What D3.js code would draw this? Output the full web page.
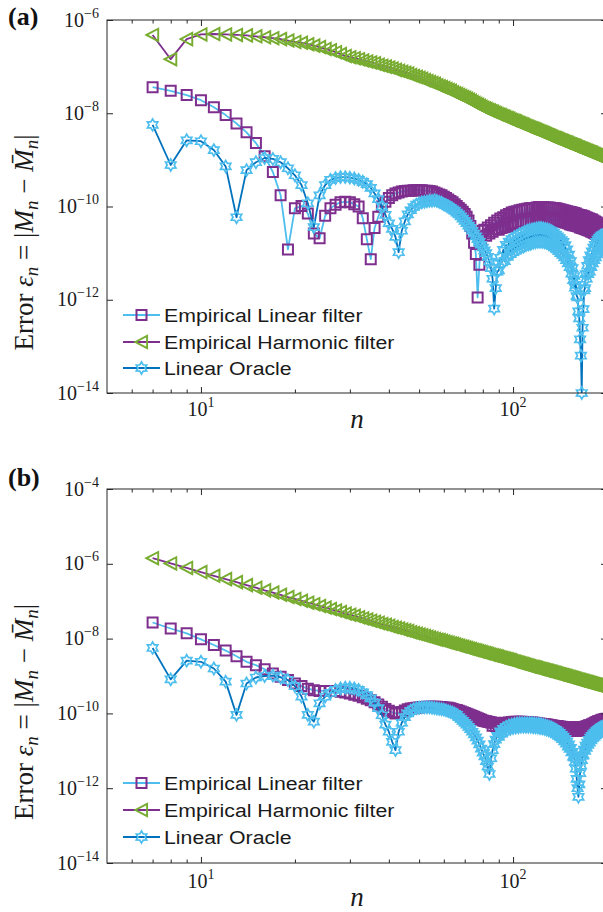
<!DOCTYPE html>
<html>
<head>
<meta charset="utf-8">
<script src="https://cdn.jsdelivr.net/npm/d3@7"></script>
<style>
  body { margin: 0; background: #fff; }
  svg { display: block; }
</style>
</head>
<body>
<svg id="chart" width="603" height="912"></svg>
<script>
'use strict';

// n runs over the integers 7..200, one marker per n
const nValues = d3.range(7, 201);

// log10 of the error, n = 7, 8, 9, ...
// panel (a)
const linearA = [
  -7.44,-7.52,-7.61,-7.72,-7.87,-8.04,-8.22,-8.41,-8.64,-8.92,
  -9.26,-9.76,-10.92,-10.04,-9.99,-10.15,-10.58,-10.68,-10.20,-10.04,
  -9.96,-9.91,-9.90,-9.91,-9.95,-10.00,-10.25,-10.70,-11.13,-10.46,
  -10.22,-10.00,-9.90,-9.82,-9.76,-9.72,-9.70,-9.68,-9.67,-9.66,
  -9.66,-9.65,-9.65,-9.65,-9.65,-9.66,-9.66,-9.67,-9.68,-9.70,
  -9.72,-9.74,-9.76,-9.79,-9.82,-9.85,-9.88,-9.91,-9.95,-9.99,
  -10.03,-10.07,-10.11,-10.16,-10.22,-10.30,-10.42,-10.58,-10.78,-11.02,
  -11.95,-11.25,-10.72,-10.52,-10.50,-10.63,-10.45,-10.58,-10.40,-10.54,
  -10.35,-10.49,-10.30,-10.50,-10.26,-10.46,-10.23,-10.43,-10.19,-10.44,
  -10.16,-10.41,-10.13,-10.38,-10.11,-10.36,-10.10,-10.35,-10.08,-10.34,
  -10.07,-10.32,-10.06,-10.31,-10.05,-10.30,-10.04,-10.30,-10.03,-10.29,
  -10.03,-10.28,-10.02,-10.28,-10.01,-10.27,-10.01,-10.27,-10.01,-10.27,
  -10.02,-10.28,-10.02,-10.28,-10.02,-10.29,-10.03,-10.29,-10.03,-10.30,
  -10.04,-10.31,-10.05,-10.31,-10.06,-10.32,-10.07,-10.33,-10.08,-10.34,
  -10.09,-10.35,-10.10,-10.36,-10.11,-10.38,-10.12,-10.39,-10.13,-10.40,
  -10.14,-10.41,-10.15,-10.42,-10.17,-10.43,-10.18,-10.45,-10.19,-10.46,
  -10.20,-10.47,-10.21,-10.48,-10.23,-10.50,-10.24,-10.51,-10.26,-10.52,
  -10.27,-10.54,-10.28,-10.55,-10.30,-10.57,-10.32,-10.59,-10.34,-10.61,
  -10.36,-10.63,-10.38,-10.66,-10.41,-10.68,-10.43,-10.70,-10.46,-10.73,
  -10.48,-10.75,-10.50,-10.78
];
const harmonicA = [
  -6.32,-6.84,-6.41,-6.31,-6.30,-6.31,-6.32,-6.33,-6.35,-6.37,
  -6.39,-6.41,-6.44,-6.47,-6.49,-6.52,-6.55,-6.58,-6.62,-6.65,
  -6.69,-6.73,-6.77,-6.80,-6.82,-6.84,-6.87,-6.89,-6.91,-6.93,
  -6.96,-6.98,-7.00,-7.02,-7.04,-7.07,-7.09,-7.11,-7.13,-7.15,
  -7.18,-7.20,-7.22,-7.24,-7.26,-7.29,-7.31,-7.33,-7.35,-7.37,
  -7.40,-7.42,-7.44,-7.46,-7.48,-7.50,-7.52,-7.55,-7.57,-7.59,
  -7.61,-7.63,-7.65,-7.67,-7.69,-7.71,-7.73,-7.76,-7.78,-7.80,
  -7.82,-7.84,-7.86,-7.88,-7.90,-7.91,-7.93,-7.94,-7.96,-7.97,
  -7.99,-8.00,-8.02,-8.03,-8.04,-8.06,-8.07,-8.08,-8.10,-8.11,
  -8.12,-8.14,-8.15,-8.16,-8.17,-8.18,-8.20,-8.21,-8.22,-8.23,
  -8.24,-8.25,-8.27,-8.28,-8.29,-8.30,-8.31,-8.32,-8.33,-8.34,
  -8.35,-8.36,-8.37,-8.38,-8.39,-8.40,-8.41,-8.42,-8.43,-8.44,
  -8.45,-8.46,-8.47,-8.48,-8.49,-8.50,-8.51,-8.52,-8.53,-8.53,
  -8.54,-8.55,-8.56,-8.57,-8.58,-8.59,-8.59,-8.60,-8.61,-8.62,
  -8.63,-8.63,-8.64,-8.65,-8.66,-8.67,-8.67,-8.68,-8.69,-8.70,
  -8.70,-8.71,-8.72,-8.73,-8.74,-8.74,-8.75,-8.76,-8.76,-8.77,
  -8.78,-8.79,-8.79,-8.80,-8.81,-8.81,-8.82,-8.83,-8.83,-8.84,
  -8.85,-8.85,-8.86,-8.87,-8.88,-8.88,-8.89,-8.90,-8.90,-8.91,
  -8.92,-8.92,-8.93,-8.94,-8.94,-8.95,-8.96,-8.96,-8.97,-8.98,
  -8.98,-8.99,-8.99,-9.00
];
const oracleA = [
  -8.25,-9.11,-8.58,-8.60,-8.79,-9.14,-10.23,-9.22,-9.05,-8.96,
  -8.98,-9.05,-9.18,-9.33,-9.54,-9.93,-10.44,-9.76,-9.54,-9.43,
  -9.39,-9.37,-9.37,-9.38,-9.40,-9.43,-9.47,-9.52,-9.60,-9.72,
  -9.84,-10.00,-10.18,-10.36,-10.48,-10.65,-10.98,-10.52,-10.32,-10.17,
  -10.08,-10.01,-9.96,-9.93,-9.91,-9.90,-9.89,-9.88,-9.88,-9.87,
  -9.88,-9.90,-9.92,-9.95,-9.97,-10.00,-10.03,-10.06,-10.09,-10.13,
  -10.17,-10.21,-10.26,-10.31,-10.36,-10.41,-10.46,-10.52,-10.58,-10.64,
  -10.70,-10.76,-10.82,-10.88,-10.94,-11.00,-11.08,-11.18,-11.32,-11.55,
  -12.19,-11.75,-11.40,-11.37,-11.10,-11.20,-10.93,-11.17,-10.82,-11.08,
  -10.75,-11.02,-10.70,-10.98,-10.66,-10.94,-10.63,-10.91,-10.60,-10.88,
  -10.57,-10.86,-10.54,-10.83,-10.52,-10.81,-10.50,-10.80,-10.49,-10.78,
  -10.48,-10.77,-10.47,-10.76,-10.46,-10.76,-10.46,-10.76,-10.47,-10.77,
  -10.48,-10.78,-10.49,-10.80,-10.51,-10.82,-10.53,-10.85,-10.56,-10.88,
  -10.60,-10.92,-10.64,-10.96,-10.68,-11.00,-10.72,-11.04,-10.76,-11.09,
  -10.83,-11.15,-10.92,-11.22,-11.03,-11.30,-11.17,-11.44,-11.32,-11.58,
  -11.49,-11.74,-11.68,-11.92,-11.95,-12.25,-12.40,-12.85,-13.20,-14.00,
  -12.60,-12.20,-11.80,-11.75,-11.45,-11.55,-11.27,-11.45,-11.15,-11.40,
  -11.05,-11.30,-10.96,-11.22,-10.88,-11.15,-10.82,-11.09,-10.76,-11.03,
  -10.71,-10.99,-10.67,-10.95,-10.64,-10.93,-10.62,-10.91,-10.60,-10.89,
  -10.58,-10.87,-10.56,-10.85
];

// panel (b)
const linearB = [
  -7.57,-7.73,-7.86,-8.02,-8.17,-8.32,-8.47,-8.62,-8.71,-8.82,
  -8.93,-9.02,-9.11,-9.20,-9.27,-9.34,-9.38,-9.40,-9.40,-9.40,
  -9.40,-9.42,-9.44,-9.47,-9.50,-9.53,-9.57,-9.61,-9.65,-9.70,
  -9.76,-9.82,-9.88,-9.93,-9.97,-10.00,-9.99,-9.96,-9.92,-9.89,
  -9.87,-9.86,-9.85,-9.84,-9.83,-9.83,-9.82,-9.82,-9.82,-9.82,
  -9.82,-9.83,-9.83,-9.84,-9.85,-9.85,-9.86,-9.88,-9.90,-9.91,
  -9.93,-9.95,-9.97,-9.99,-10.01,-10.03,-10.05,-10.07,-10.09,-10.11,
  -10.13,-10.15,-10.17,-10.19,-10.20,-10.21,-10.22,-10.23,-10.24,-10.33,
  -10.25,-10.34,-10.26,-10.35,-10.27,-10.35,-10.26,-10.34,-10.25,-10.33,
  -10.24,-10.32,-10.23,-10.31,-10.22,-10.30,-10.22,-10.30,-10.22,-10.30,
  -10.22,-10.31,-10.23,-10.31,-10.23,-10.32,-10.24,-10.32,-10.24,-10.32,
  -10.25,-10.33,-10.26,-10.34,-10.27,-10.35,-10.28,-10.36,-10.29,-10.37,
  -10.29,-10.38,-10.30,-10.39,-10.31,-10.40,-10.32,-10.40,-10.33,-10.41,
  -10.34,-10.42,-10.34,-10.43,-10.35,-10.43,-10.36,-10.44,-10.37,-10.45,
  -10.37,-10.46,-10.38,-10.46,-10.38,-10.46,-10.38,-10.46,-10.38,-10.46,
  -10.38,-10.46,-10.38,-10.46,-10.38,-10.46,-10.38,-10.46,-10.38,-10.46,
  -10.38,-10.45,-10.37,-10.44,-10.35,-10.43,-10.34,-10.41,-10.32,-10.39,
  -10.31,-10.38,-10.29,-10.36,-10.27,-10.34,-10.25,-10.32,-10.23,-10.30,
  -10.21,-10.28,-10.20,-10.27,-10.18,-10.26,-10.17,-10.25,-10.16,-10.24,
  -10.15,-10.23,-10.14,-10.22
];
const harmonicB = [
  -5.85,-5.99,-6.11,-6.22,-6.32,-6.41,-6.49,-6.57,-6.64,-6.71,
  -6.77,-6.83,-6.89,-6.94,-6.99,-7.04,-7.08,-7.13,-7.17,-7.21,
  -7.25,-7.29,-7.33,-7.36,-7.39,-7.43,-7.46,-7.49,-7.52,-7.55,
  -7.58,-7.61,-7.63,-7.66,-7.69,-7.71,-7.73,-7.76,-7.78,-7.80,
  -7.83,-7.85,-7.87,-7.89,-7.91,-7.93,-7.95,-7.97,-7.99,-8.01,
  -8.03,-8.04,-8.06,-8.08,-8.10,-8.11,-8.13,-8.14,-8.16,-8.18,
  -8.19,-8.21,-8.22,-8.24,-8.25,-8.27,-8.28,-8.30,-8.31,-8.32,
  -8.34,-8.35,-8.36,-8.38,-8.39,-8.40,-8.41,-8.43,-8.44,-8.45,
  -8.46,-8.47,-8.48,-8.50,-8.51,-8.52,-8.53,-8.54,-8.55,-8.56,
  -8.57,-8.58,-8.60,-8.61,-8.62,-8.63,-8.64,-8.65,-8.66,-8.67,
  -8.68,-8.69,-8.70,-8.71,-8.72,-8.73,-8.74,-8.75,-8.76,-8.76,
  -8.77,-8.78,-8.79,-8.80,-8.81,-8.82,-8.82,-8.83,-8.84,-8.85,
  -8.86,-8.86,-8.87,-8.88,-8.89,-8.89,-8.90,-8.91,-8.92,-8.92,
  -8.93,-8.94,-8.95,-8.96,-8.96,-8.97,-8.98,-8.98,-8.99,-9.00,
  -9.00,-9.01,-9.02,-9.03,-9.03,-9.04,-9.05,-9.05,-9.06,-9.07,
  -9.07,-9.08,-9.09,-9.10,-9.10,-9.11,-9.11,-9.12,-9.13,-9.13,
  -9.14,-9.14,-9.15,-9.16,-9.16,-9.17,-9.17,-9.18,-9.19,-9.19,
  -9.20,-9.20,-9.21,-9.22,-9.22,-9.23,-9.23,-9.24,-9.24,-9.25,
  -9.26,-9.26,-9.27,-9.28,-9.28,-9.29,-9.29,-9.30,-9.30,-9.31,
  -9.31,-9.32,-9.32,-9.33
];
const oracleB = [
  -8.25,-9.09,-8.59,-8.62,-8.80,-9.15,-10.04,-9.20,-9.04,-9.00,
  -8.99,-9.04,-9.11,-9.27,-9.55,-10.04,-10.22,-9.73,-9.55,-9.45,
  -9.37,-9.33,-9.31,-9.31,-9.33,-9.37,-9.44,-9.51,-9.60,-9.71,
  -9.86,-10.05,-10.30,-10.49,-10.76,-10.98,-10.49,-10.25,-10.10,-10.00,
  -9.93,-9.89,-9.86,-9.85,-9.84,-9.84,-9.84,-9.84,-9.85,-9.86,
  -9.87,-9.88,-9.89,-9.90,-9.92,-9.94,-9.96,-9.98,-10.01,-10.04,
  -10.10,-10.15,-10.20,-10.25,-10.30,-10.36,-10.42,-10.49,-10.56,-10.64,
  -10.73,-10.83,-10.94,-11.05,-11.15,-11.28,-11.42,-11.62,-11.20,-10.98,
  -10.82,-10.70,-10.60,-10.63,-10.48,-10.54,-10.41,-10.48,-10.36,-10.44,
  -10.32,-10.41,-10.30,-10.39,-10.28,-10.38,-10.27,-10.37,-10.26,-10.36,
  -10.26,-10.36,-10.26,-10.36,-10.26,-10.36,-10.26,-10.36,-10.26,-10.37,
  -10.27,-10.37,-10.28,-10.38,-10.28,-10.39,-10.29,-10.40,-10.31,-10.41,
  -10.32,-10.43,-10.34,-10.45,-10.36,-10.47,-10.38,-10.49,-10.41,-10.52,
  -10.44,-10.56,-10.48,-10.60,-10.52,-10.64,-10.57,-10.69,-10.62,-10.75,
  -10.68,-10.81,-10.75,-10.89,-10.83,-10.95,-10.92,-11.04,-11.03,-11.16,
  -11.18,-11.30,-11.48,-11.75,-12.00,-12.23,-11.90,-11.60,-11.40,-11.25,
  -11.13,-11.12,-10.97,-11.00,-10.86,-10.92,-10.78,-10.84,-10.71,-10.78,
  -10.65,-10.72,-10.60,-10.67,-10.55,-10.63,-10.51,-10.59,-10.47,-10.55,
  -10.44,-10.52,-10.41,-10.49,-10.38,-10.47,-10.36,-10.45,-10.34,-10.43,
  -10.32,-10.41,-10.30,-10.39
];

const legendLabels = ["Empirical Linear filter", "Empirical Harmonic filter", "Linear Oracle"];
const xMajorTicks = [10, 100];
const xMinorTicks = [6, 7, 8, 9, 20, 30, 40, 50, 60, 70, 80, 90, 200];
const yTicksA = [-6, -8, -10, -12, -14];
const yTicksB = [-4, -6, -8, -10, -12, -14];

const axisColor = "#262626";
const colors = { green: "#77AC30", purple: "#7E2F8E", light: "#4DBEEE", dark: "#0072BD" };

const svg = d3.select("#chart");
svg.append("rect").attr("width", 603).attr("height", 912).attr("fill", "#fff");

const left = 107, right = 607;
const x = d3.scaleLog().domain([5, 200]).range([left, right]);

// marker shapes
const squarePath = "M-5,-5h10v10h-10z";
const trianglePath = "M-6.2,0L5.6,-6.2L5.6,6.2Z";
const hexagramPath = (function () {
    let pts = [];
    for (let k = 0; k < 12; k++) {
        let a = (k * 30 - 90) * Math.PI / 180;
        let r = k % 2 === 0 ? 6 : 3.5;
        pts.push([r * Math.cos(a), r * Math.sin(a)]);
    }
    return "M" + pts.map(p => p[0].toFixed(2) + "," + p[1].toFixed(2)).join("L") + "Z";
})();

const series = [
    { key: "linear", line: colors.light, marker: colors.purple, shape: squarePath, mw: 2 },
    { key: "harmonic", line: colors.purple, marker: colors.green, shape: trianglePath, mw: 1.9 },
    { key: "oracle", line: colors.dark, marker: colors.light, shape: hexagramPath, mw: 1.7 }
];

const panels = [
    { id: "a", label: "(a)", top: 20, bottom: 393, yTicks: yTicksA, labelY: 25,
      linear: linearA, harmonic: harmonicA, oracle: oracleA,
      legendY: [315, 342, 368], tickBase: 416, nBase: 428 },
    { id: "b", label: "(b)", top: 489, bottom: 863, yTicks: yTicksB, labelY: 486,
      linear: linearB, harmonic: harmonicB, oracle: oracleB,
      legendY: [783, 810, 837], tickBase: 888, nBase: 906 }
];

function drawPanel(p) {
    let y = d3.scaleLog()
        .domain([Math.pow(10, d3.min(p.yTicks)), Math.pow(10, d3.max(p.yTicks))])
        .range([p.bottom, p.top]);

    svg.append("clipPath").attr("id", "clip-" + p.id)
        .append("rect")
        .attr("x", left).attr("y", p.top)
        .attr("width", right - left).attr("height", p.bottom - p.top);

    let g = svg.append("g");

    let line = d3.line()
        .x(d => x(d.n))
        .y(d => y(d.v));

    series.forEach(s => {
        let data = p[s.key].map((e, i) => ({ n: nValues[i], v: Math.pow(10, e) }));

        g.append("path")
            .datum(data)
            .attr("clip-path", "url(#clip-" + p.id + ")")
            .attr("fill", "none")
            .attr("stroke", s.line)
            .attr("stroke-width", 1.8)
            .attr("stroke-linejoin", "round")
            .attr("d", line);

        g.append("g").selectAll("path")
            .data(data)
            .enter().append("path")
            .attr("transform", d => "translate(" + x(d.n) + "," + y(d.v) + ")")
            .attr("d", s.shape)
            .attr("fill", "none")
            .attr("stroke", s.marker)
            .attr("stroke-width", s.mw);
    });

    // legend
    let lg = svg.append("g");
    series.forEach((s, i) => {
        let ly = p.legendY[i];
        lg.append("line")
            .attr("x1", 123).attr("x2", 160).attr("y1", ly).attr("y2", ly)
            .attr("stroke", s.line).attr("stroke-width", 1.8);
        lg.append("path")
            .attr("transform", "translate(141.5," + ly + ")")
            .attr("d", s.shape)
            .attr("fill", "none").attr("stroke", s.marker).attr("stroke-width", s.mw);
        lg.append("text")
            .attr("transform", "translate(164," + (ly + 7) + ") scale(1.12,1)")
            .attr("font-family", "'Liberation Sans', Arial, sans-serif")
            .attr("font-size", 19)
            .attr("fill", "#1a1a1a")
            .text(legendLabels[i]);
    });

    // axes: ticks pointing inward
    let ax = svg.append("g").attr("color", axisColor);
    let clean = sel => { sel.select(".domain").remove(); sel.selectAll("line").attr("stroke-width", 1); };

    ax.append("g").attr("transform", "translate(0," + p.bottom + ")")
        .call(d3.axisBottom(x).tickValues(xMajorTicks).tickSize(-6).tickFormat("")).call(clean);
    ax.append("g").attr("transform", "translate(0," + p.bottom + ")")
        .call(d3.axisBottom(x).tickValues(xMinorTicks).tickSize(-3.5).tickFormat("")).call(clean);
    ax.append("g").attr("transform", "translate(0," + p.top + ")")
        .call(d3.axisTop(x).tickValues(xMajorTicks).tickSize(-6).tickFormat("")).call(clean);
    ax.append("g").attr("transform", "translate(0," + p.top + ")")
        .call(d3.axisTop(x).tickValues(xMinorTicks).tickSize(-3.5).tickFormat("")).call(clean);

    let yVals = p.yTicks.map(e => Math.pow(10, e));
    ax.append("g").attr("transform", "translate(" + left + ",0)")
        .call(d3.axisLeft(y).tickValues(yVals).tickSize(-6).tickFormat("")).call(clean);
    ax.append("g").attr("transform", "translate(" + right + ",0)")
        .call(d3.axisRight(y).tickValues(yVals).tickSize(-6).tickFormat("")).call(clean);

    ax.append("rect")
        .attr("x", left).attr("y", p.top)
        .attr("width", right - left).attr("height", p.bottom - p.top)
        .attr("fill", "none").attr("stroke", axisColor).attr("stroke-width", 1);

    let serif = "'Liberation Serif', 'Times New Roman', serif";

    // y tick labels 10^e
    p.yTicks.forEach(e => {
        let t = svg.append("text")
            .attr("x", 99).attr("y", y(Math.pow(10, e)) + 6.5)
            .attr("text-anchor", "end")
            .attr("font-family", serif).attr("font-size", 20).attr("fill", "#1a1a1a");
        t.append("tspan").text("10");
        t.append("tspan").attr("dy", -9).attr("font-size", 14).text("\u2212" + Math.abs(e));
    });

    // x tick labels
    xMajorTicks.forEach(v => {
        let t = svg.append("text")
            .attr("x", x(v)).attr("y", p.tickBase)
            .attr("text-anchor", "middle")
            .attr("font-family", serif).attr("font-size", 20).attr("fill", "#1a1a1a");
        t.append("tspan").text("10");
        t.append("tspan").attr("dy", -9).attr("font-size", 14).text(Math.round(Math.log10(v)));
    });

    // x axis title
    svg.append("text")
        .attr("x", (left + right) / 2).attr("y", p.nBase)
        .attr("text-anchor", "middle")
        .attr("font-family", serif).attr("font-style", "italic").attr("font-size", 27)
        .attr("fill", "#1a1a1a")
        .text("n");

    // y axis title
    let cy = (p.top + p.bottom) / 2 + 36;
    let yt = svg.append("text")
        .attr("transform", "translate(33," + cy + ") rotate(-90)")
        .attr("text-anchor", "middle")
        .attr("font-family", serif).attr("font-size", 27).attr("fill", "#1a1a1a");
    yt.append("tspan").text("Error ");
    yt.append("tspan").attr("font-style", "italic").text("\u03b5");
    yt.append("tspan").attr("font-style", "italic").attr("font-size", 19).attr("dy", 5).text("n");
    yt.append("tspan").attr("dy", -5).text(" = |");
    yt.append("tspan").attr("font-style", "italic").text("M");
    yt.append("tspan").attr("font-style", "italic").attr("font-size", 19).attr("dy", 5).text("n");
    yt.append("tspan").attr("dy", -5).text(" \u2212 ");
    yt.append("tspan").attr("font-style", "italic").text("M\u0304");
    yt.append("tspan").attr("font-style", "italic").attr("font-size", 19).attr("dy", 5).text("n");
    yt.append("tspan").attr("dy", -5).text("|");

    // panel label
    svg.append("text")
        .attr("x", 8).attr("y", p.labelY)
        .attr("font-family", serif).attr("font-weight", "bold").attr("font-size", 26)
        .attr("fill", "#111")
        .text(p.label);
}

panels.forEach(drawPanel);
</script>
</body>
</html>
